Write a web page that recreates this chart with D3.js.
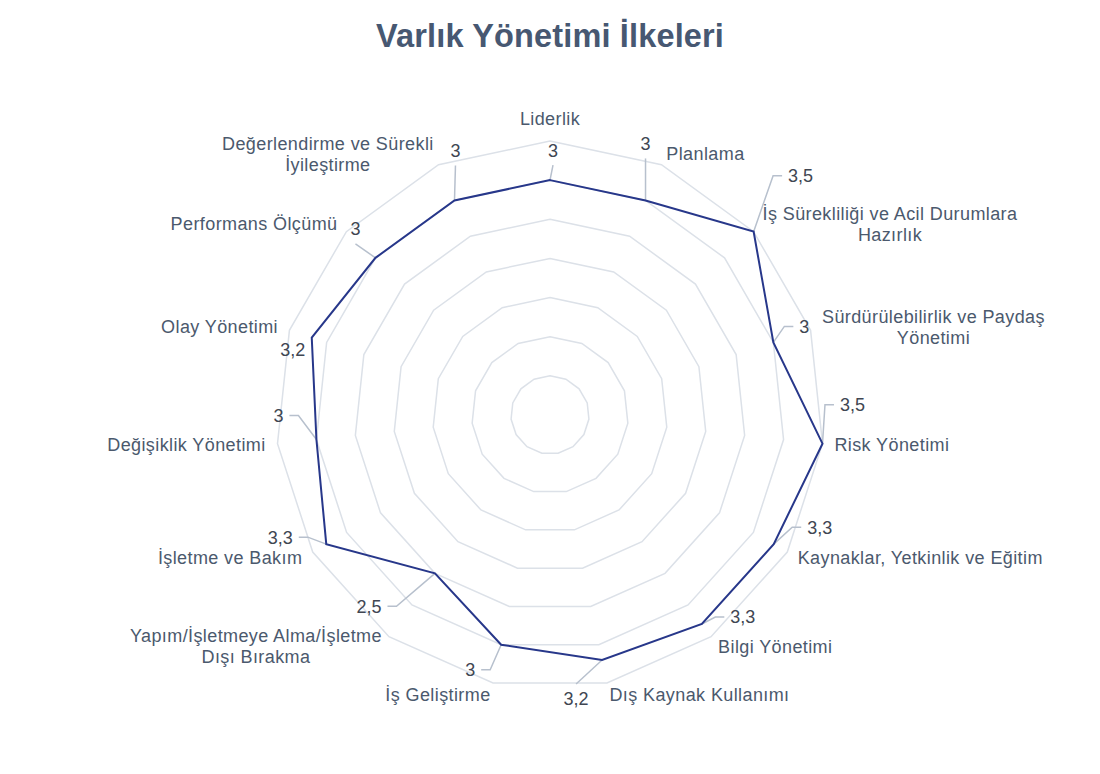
<!DOCTYPE html>
<html>
<head>
<meta charset="utf-8">
<script src="https://cdn.jsdelivr.net/npm/d3@7/dist/d3.min.js"></script>
<style>
  html, body { margin: 0; padding: 0; background: #ffffff; }
  svg { display: block; }
</style>
</head>
<body>
<svg id="chart" width="1100" height="774"></svg>
<script>
// ---- data ----
const title = "Varlık Yönetimi İlkeleri";
const categories = [
  "Liderlik",
  "Planlama",
  "İş Sürekliliği ve Acil Durumlara Hazırlık",
  "Sürdürülebilirlik ve Paydaş Yönetimi",
  "Risk Yönetimi",
  "Kaynaklar, Yetkinlik ve Eğitim",
  "Bilgi Yönetimi",
  "Dış Kaynak Kullanımı",
  "İş Geliştirme",
  "Yapım/İşletmeye Alma/İşletme Dışı Bırakma",
  "İşletme ve Bakım",
  "Değişiklik Yönetimi",
  "Olay Yönetimi",
  "Performans Ölçümü",
  "Değerlendirme ve Sürekli İyileştirme"
];
const values = [3, 3, 3.5, 3, 3.5, 3.3, 3.3, 3.2, 3, 2.5, 3.3, 3, 3.2, 3, 3];
const ringTicks = [0.5, 1, 1.5, 2, 2.5, 3, 3.5];

// ---- layout (data-label placement relative to its point, leader style) ----
const labelOffsets = [[3,-30],[0,-57],[47,-56],[31,-16],[30,-39],[46,-17],[41,-7],
                      [-26,39],[-31,25],[-66,33],[-46,-7],[-38,-24],[-19,12],[-20,-29],[1,-50]];
const leaderKinds = ['v','v','h','h','h','h','h','v','h','h','h','h','none','v','v'];

const W = 1100, H = 774;
const cx = 550, cy = 415, R = 274;
const n = categories.length;
const fontFamily = "'Liberation Sans', Arial, Helvetica, sans-serif";

const svg = d3.select("#chart");
const g = svg.append("g").attr("transform", `translate(${cx},${cy})`);

const rScale = d3.scaleLinear().domain([0, d3.max(ringTicks)]).range([0, R]);
const aScale = d3.scaleLinear().domain([0, n]).range([0, 2 * Math.PI]);

const px = (i, v) => rScale(v) * Math.sin(aScale(i));
const py = (i, v) => -rScale(v) * Math.cos(aScale(i));

// title
svg.append("text")
  .attr("x", W / 2).attr("y", 46.5)
  .attr("text-anchor", "middle")
  .attr("font-family", fontFamily)
  .attr("font-weight", "bold")
  .attr("font-size", 32.5)
  .attr("letter-spacing", 0.15)
  .attr("fill", "#475872")
  .text(title);

// grid rings
const ringLine = d3.lineRadial()
  .angle((d, i) => aScale(i))
  .curve(d3.curveLinearClosed);

g.append("g").selectAll("path")
  .data(ringTicks)
  .join("path")
  .attr("d", t => ringLine.radius(rScale(t))(d3.range(n)))
  .attr("fill", "none")
  .attr("stroke", "#dce1e8")
  .attr("stroke-width", 1.5);

// data line
const dataLine = d3.lineRadial()
  .angle((d, i) => aScale(i))
  .radius(d => rScale(d))
  .curve(d3.curveLinearClosed);

// leader lines + value labels
const labelFont = 18;
const leaderG = g.append("g");
const valueG = g.append("g");
const fmt = v => String(v).replace(".", ",");

values.forEach((v, i) => {
  const x0 = px(i, v), y0 = py(i, v);
  const lx = x0 + labelOffsets[i][0], ly = y0 + labelOffsets[i][1];
  const t = valueG.append("text")
    .attr("x", lx).attr("y", ly + 0.355 * labelFont)
    .attr("text-anchor", "middle")
    .attr("font-family", fontFamily)
    .attr("font-size", labelFont)
    .attr("fill", "#404652")
    .text(fmt(v));
  const w = t.node().getComputedTextLength();
  const kind = leaderKinds[i];
  let pts = null;
  if (kind === 'h') {
    const s = labelOffsets[i][0] > 0 ? 1 : -1;
    const edge = lx - s * w / 2;
    const xe = edge - s * 6;
    const xs = xe - s * 9;
    pts = [[x0, y0], [xs, ly], [xe, ly]];
  } else if (kind === 'v') {
    const s = labelOffsets[i][1] < 0 ? -1 : 1;
    const ye = ly - s * 15;
    pts = [[x0, y0], [lx, ye]];
  }
  if (pts) {
    leaderG.append("path")
      .attr("d", d3.line()(pts))
      .attr("fill", "none")
      .attr("stroke", "#b7c0cd")
      .attr("stroke-width", 1.5);
  }
});

g.append("path")
  .datum(values)
  .attr("d", dataLine)
  .attr("fill", "none")
  .attr("stroke", "#27378a")
  .attr("stroke-width", 2)
  .attr("stroke-linejoin", "miter");

// category labels
const catFont = 18, lineH = 21, pad = 12, maxChars = 32;
function wrap(str) {
  const words = str.split(" ");
  const lines = [];
  let cur = "";
  words.forEach(wd => {
    const test = cur ? cur + " " + wd : wd;
    if (test.length > maxChars && cur) { lines.push(cur); cur = wd; }
    else cur = test;
  });
  if (cur) lines.push(cur);
  return lines;
}

const catG = g.append("g");
categories.forEach((c, i) => {
  const a = aScale(i);
  const sx = Math.sin(a), cyv = -Math.cos(a);
  const vx = px(i, d3.max(ringTicks)), vy = py(i, d3.max(ringTicks));
  const Px = vx + pad * sx, Py = vy + pad * cyv;
  const lines = wrap(c);
  const hBlock = lines.length * lineH;
  const txt = catG.append("text")
    .attr("font-family", fontFamily)
    .attr("font-size", catFont)
    .attr("letter-spacing", 0.4)
    .attr("fill", "#4b596d")
    .attr("text-anchor", "middle");
  const tspans = lines.map(l => txt.append("tspan").text(l));
  const widths = tspans.map(ts => ts.node().getComputedTextLength());
  const bw = d3.max(widths);
  let centerX, centerY = Py;
  if (Math.abs(sx) < 1e-6) {
    centerX = Px;
    centerY = Py + (cyv < 0 ? -hBlock / 2 : hBlock / 2);
  } else if (sx > 0) {
    centerX = Px + bw / 2;
  } else {
    centerX = Px - bw / 2;
  }
  tspans.forEach((ts, k) => {
    const lineCenter = centerY - hBlock / 2 + lineH * (k + 0.5);
    ts.attr("x", centerX).attr("y", lineCenter + 0.355 * catFont);
  });
});
</script>
</body>
</html>
